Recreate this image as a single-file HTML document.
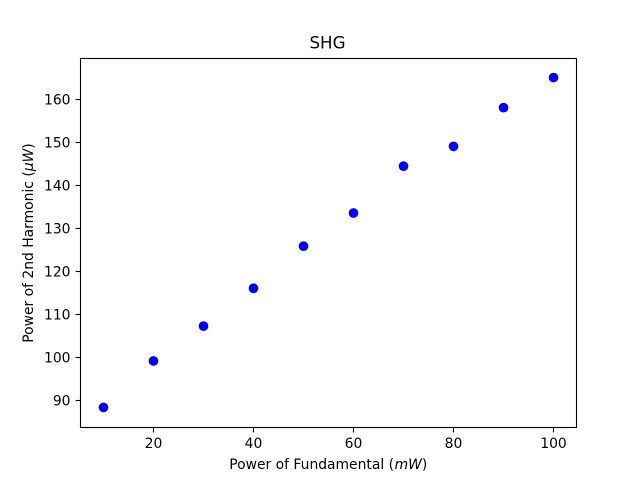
<!DOCTYPE html>
<html>
<head>
<meta charset="utf-8">
<title>SHG</title>
<style>
html,body{margin:0;padding:0;background:#fff;}
svg{display:block;}
text{font-family:"DejaVu Sans",sans-serif;fill:#000;}
.it{font-style:italic;}
</style>
</head>
<body>
<svg id="chart" xmlns="http://www.w3.org/2000/svg" width="640" height="480" viewBox="0 0 640 480">
<rect x="0" y="0" width="640" height="480" fill="#fff"/>
<rect x="80.5" y="58.5" width="496" height="369" fill="#fff"/>
<g id="marks"></g>
<g id="x-ticks"></g>
<g id="y-ticks"></g>
<rect x="80.5" y="58.5" width="496" height="369" fill="none" stroke="#000" stroke-width="1.11"/>
<text x="327.5" y="48.5" font-size="16.67" text-anchor="middle">SHG</text>
<text x="328.3" y="469" font-size="13.89" text-anchor="middle">Power of Fundamental (<tspan class="it" dx="0.6">mW</tspan>)</text>
<text transform="translate(33 243) rotate(-90)" font-size="13.89" text-anchor="middle">Power of 2nd Harmonic (<tspan class="it">μW</tspan>)</text>
</svg>
<script>
const fundamentalPower = [10, 20, 30, 40, 50, 60, 70, 80, 90, 100];
const harmonicPower = [88.4, 99.2, 107.3, 116.1, 125.9, 133.6, 144.5, 149.1, 158.1, 165.1];
const xTickValues = [20, 40, 60, 80, 100];
const yTickValues = [90, 100, 110, 120, 130, 140, 150, 160];

const NS = 'http://www.w3.org/2000/svg';
function xScale(v) { return 53.5 + 5 * v; }
function yScale(v) { return 357.5 - (v - 100) * 4.3; }

const marks = document.getElementById('marks');
fundamentalPower.forEach(function (xv, i) {
  const c = document.createElementNS(NS, 'circle');
  
  
  c.setAttribute('cx', xScale(xv));
  c.setAttribute('cy', yScale(harmonicPower[i]));
  c.setAttribute('r', 4.86);
  c.setAttribute('fill', '#0000ff');
  marks.appendChild(c);
});

const xTicks = document.getElementById('x-ticks');
xTickValues.forEach(function (v) {
  const l = document.createElementNS(NS, 'line');
  
  
  l.setAttribute('x1', xScale(v));
  l.setAttribute('x2', xScale(v));
  l.setAttribute('y1', 427.5);
  l.setAttribute('y2', 432.4);
  l.setAttribute('stroke', '#000');
  l.setAttribute('stroke-width', 1.11);
  xTicks.appendChild(l);
  const t = document.createElementNS(NS, 'text');
  
  
  t.setAttribute('x', xScale(v));
  t.setAttribute('y', 448);
  t.setAttribute('font-size', 13.89);
  t.setAttribute('text-anchor', 'middle');
  t.textContent = v;
  xTicks.appendChild(t);
});

const yTicks = document.getElementById('y-ticks');
yTickValues.forEach(function (v) {
  const l = document.createElementNS(NS, 'line');
  
  
  l.setAttribute('x1', 75.6);
  l.setAttribute('x2', 80.5);
  l.setAttribute('y1', yScale(v));
  l.setAttribute('y2', yScale(v));
  l.setAttribute('stroke', '#000');
  l.setAttribute('stroke-width', 1.11);
  yTicks.appendChild(l);
  const t = document.createElementNS(NS, 'text');
  
  
  t.setAttribute('x', 70.5);
  t.setAttribute('y', yScale(v) + 5);
  t.setAttribute('font-size', 13.89);
  t.setAttribute('text-anchor', 'end');
  t.textContent = v;
  yTicks.appendChild(t);
});
</script>
</body>
</html>
